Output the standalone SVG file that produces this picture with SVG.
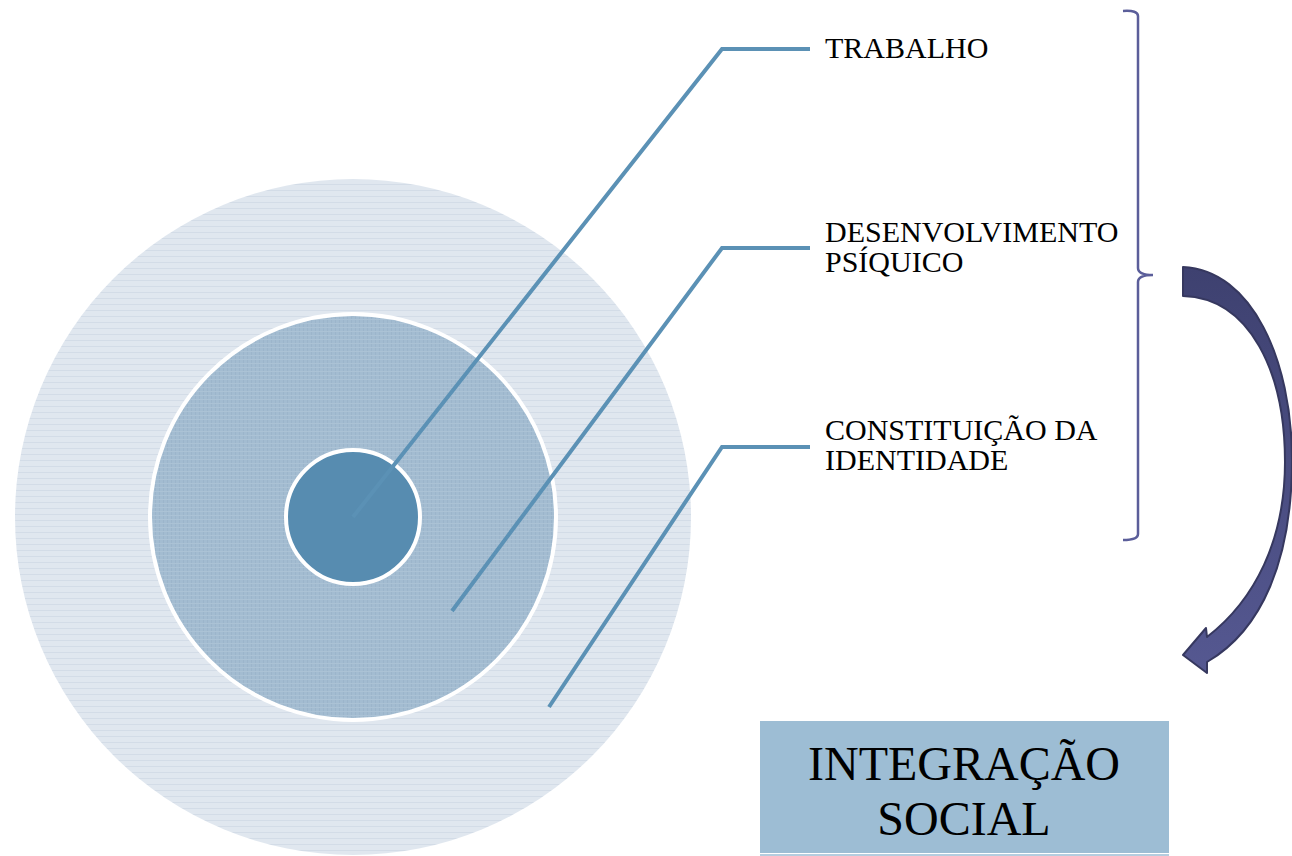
<svg xmlns="http://www.w3.org/2000/svg" width="1292" height="856" viewBox="0 0 1292 856">
<style>
.lbl{font-family:"Liberation Serif","Times New Roman",serif;font-size:30px;fill:#000}
.big{font-family:"Liberation Serif","Times New Roman",serif;font-size:48px;fill:#000;text-anchor:middle}
.conn{fill:none;stroke:#5b91b5;stroke-width:4;stroke-linejoin:miter}
</style>
<defs>
<pattern id="hstripe" width="6" height="6" patternUnits="userSpaceOnUse">
<rect width="6" height="6" fill="#e0e7ef"/>
<rect y="4" width="6" height="1" fill="#d3dce7"/>
</pattern>
<pattern id="grid" width="4" height="4" patternUnits="userSpaceOnUse">
<rect width="4" height="4" fill="#a3bcd1"/>
<rect x="3" width="1" height="4" fill="#9cb5cb"/>
<rect y="3" width="4" height="1" fill="#abc2d5"/>
</pattern>
<linearGradient id="arrowGrad" x1="0" y1="0" x2="0" y2="1">
<stop offset="0" stop-color="#3e4170"/>
<stop offset="1" stop-color="#555891"/>
</linearGradient>
</defs>
<g id="outer-circle"><circle cx="353" cy="517" r="338" fill="url(#hstripe)"/></g>
<g id="middle-circle"><circle cx="353" cy="517" r="203" fill="url(#grid)" stroke="#fff" stroke-width="4"/></g>
<g id="inner-circle"><circle cx="353" cy="517" r="67" fill="#578cb0" stroke="#fff" stroke-width="4"/></g>
<g id="connectors">
<polyline class="conn" points="353,517 722,49 810,49"/>
<polyline class="conn" points="452,611 722,248 810,248"/>
<polyline class="conn" points="549,707 722,447 810,447"/>
</g>
<g id="label-trabalho"><text class="lbl" x="825" y="58">TRABALHO</text></g>
<g id="label-desenvolvimento"><text class="lbl" x="825" y="242">DESENVOLVIMENTO</text><text class="lbl" x="825" y="272">PSÍQUICO</text></g>
<g id="label-constituicao"><text class="lbl" x="825" y="440">CONSTITUIÇÃO DA</text><text class="lbl" x="825" y="470">IDENTIDADE</text></g>
<g id="brace"><path d="M1123 11 Q1138 10 1138 16 L1138 268 Q1138 275 1153 275 Q1138 275 1138 282 L1138 534 Q1138 540 1123 540" fill="none" stroke="#5b5e9a" stroke-width="2.5"/></g>
<g id="curved-arrow"><path d="M1183 267 C1252 270 1292 360 1292 460 C1292 560 1262 630 1207 662 L1207 673 L1183 655 L1206 628 L1207 637 C1255 600 1285 540 1285 462 C1285 372 1250 298 1183 296 Z" fill="url(#arrowGrad)" stroke="#36385f" stroke-width="2" stroke-linejoin="round"/></g>
<g id="integracao-social">
<rect x="760" y="721" width="409" height="132" fill="#9dbdd4"/>
<line x1="760" y1="855" x2="1169" y2="855" stroke="#9dbdd4" stroke-width="1.5"/>
<text class="big" x="964" y="780">INTEGRAÇÃO</text>
<text class="big" x="964" y="835">SOCIAL</text>
</g>
</svg>
